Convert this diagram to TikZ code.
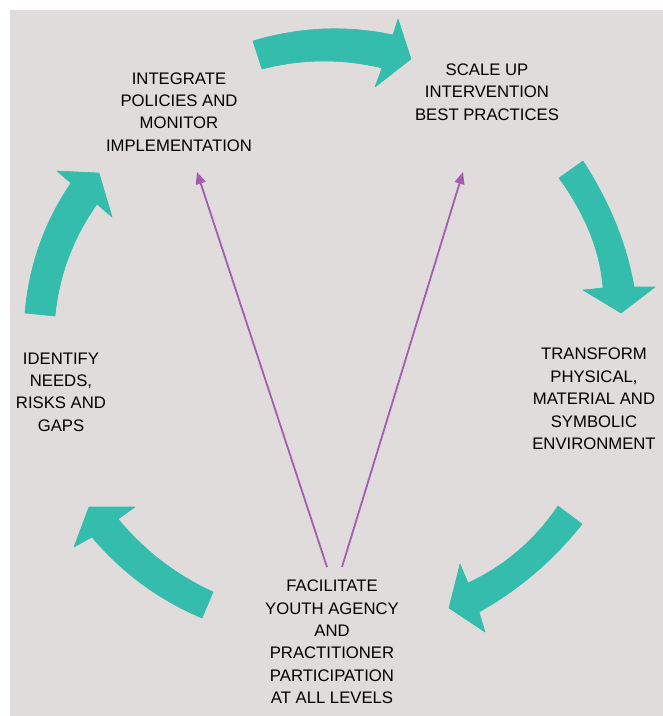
\documentclass[tikz,border=0pt]{standalone}
\usepackage{fontspec}
\setmainfont{Liberation Sans}
\usetikzlibrary{arrows.meta}
\definecolor{panel}{HTML}{DFDCDB}
\definecolor{teal}{HTML}{34BCAD}
\definecolor{violet}{HTML}{A45DB1}
\begin{document}
\begin{tikzpicture}[x=1pt,y=-1pt,
  label/.style={align=center,inner sep=0pt,font=\fontsize{16.7}{22.4}\selectfont},
  cyclearrow/.style={fill=teal,draw=teal,line width=0.6pt,line join=round},
  link/.style={draw=violet,line width=1.8pt,-{Triangle[length=12pt,width=10pt]}}]
% page and panel
\fill[white] (0,0) rectangle (663,716);
\fill[panel] (10,10) rectangle (663,716);
\useasboundingbox (0,0) rectangle (663,716);

% stage labels
\node[label] (integrate) at (179,112) {INTEGRATE\\POLICIES AND\\MONITOR\\IMPLEMENTATION};
\node[label] (scale) at (487,92) {SCALE UP\\INTERVENTION\\BEST PRACTICES};
\node[label] (transform) at (594,399) {TRANSFORM\\PHYSICAL,\\MATERIAL AND\\SYMBOLIC\\ENVIRONMENT};
\node[label] (identify) at (61,392) {IDENTIFY\\NEEDS,\\RISKS AND\\GAPS};
\node[label] (facilitate) at (332,642) {FACILITATE\\YOUTH AGENCY\\AND\\PRACTITIONER\\PARTICIPATION\\AT ALL LEVELS};

% curved cycle arrows
\fill[cyclearrow] (253,41) .. controls (299.7,27) and (346.3,25) .. (393,35) -- (398,19) -- (411,59)
  -- (375,87) -- (382,68) .. controls (342,58.3) and (302,58.7) .. (262,69) -- cycle;
\fill[cyclearrow] (583,161) .. controls (610,203) and (627,245) .. (634,287) -- (655,287) -- (621,313)
  -- (583,290) -- (603,288) .. controls (600.3,251.3) and (585.7,214.7) .. (559,178) -- cycle;
\fill[cyclearrow] (582,524) .. controls (553.7,560) and (519.3,589.3) .. (479,612) -- (485,632) -- (449,608)
  -- (460,564) -- (468,583) .. controls (504.7,566) and (534.7,540.3) .. (558,506) -- cycle;
\fill[cyclearrow] (202,618) .. controls (158.7,599.7) and (122,572.7) .. (92,537) -- (74,547) -- (89,507)
  -- (135,507) -- (118,519) .. controls (144.3,550.7) and (176,575) .. (213,592) -- cycle;
\fill[cyclearrow] (25,313) .. controls (29,265.7) and (44.3,222.3) .. (71,183) -- (57,171) -- (99,173)
  -- (112,217) -- (97,204) .. controls (73,237.9) and (59,275.2) .. (55,316) -- cycle;

% links from the base stage up to the top stages
\coordinate (fromA) at (327,567);
\coordinate (fromB) at (342,567);
\coordinate (toA) at (197,172);
\coordinate (toB) at (463,172);
\draw[link] (fromA) -- (toA);
\draw[link] (fromB) -- (toB);
\end{tikzpicture}
\end{document}
